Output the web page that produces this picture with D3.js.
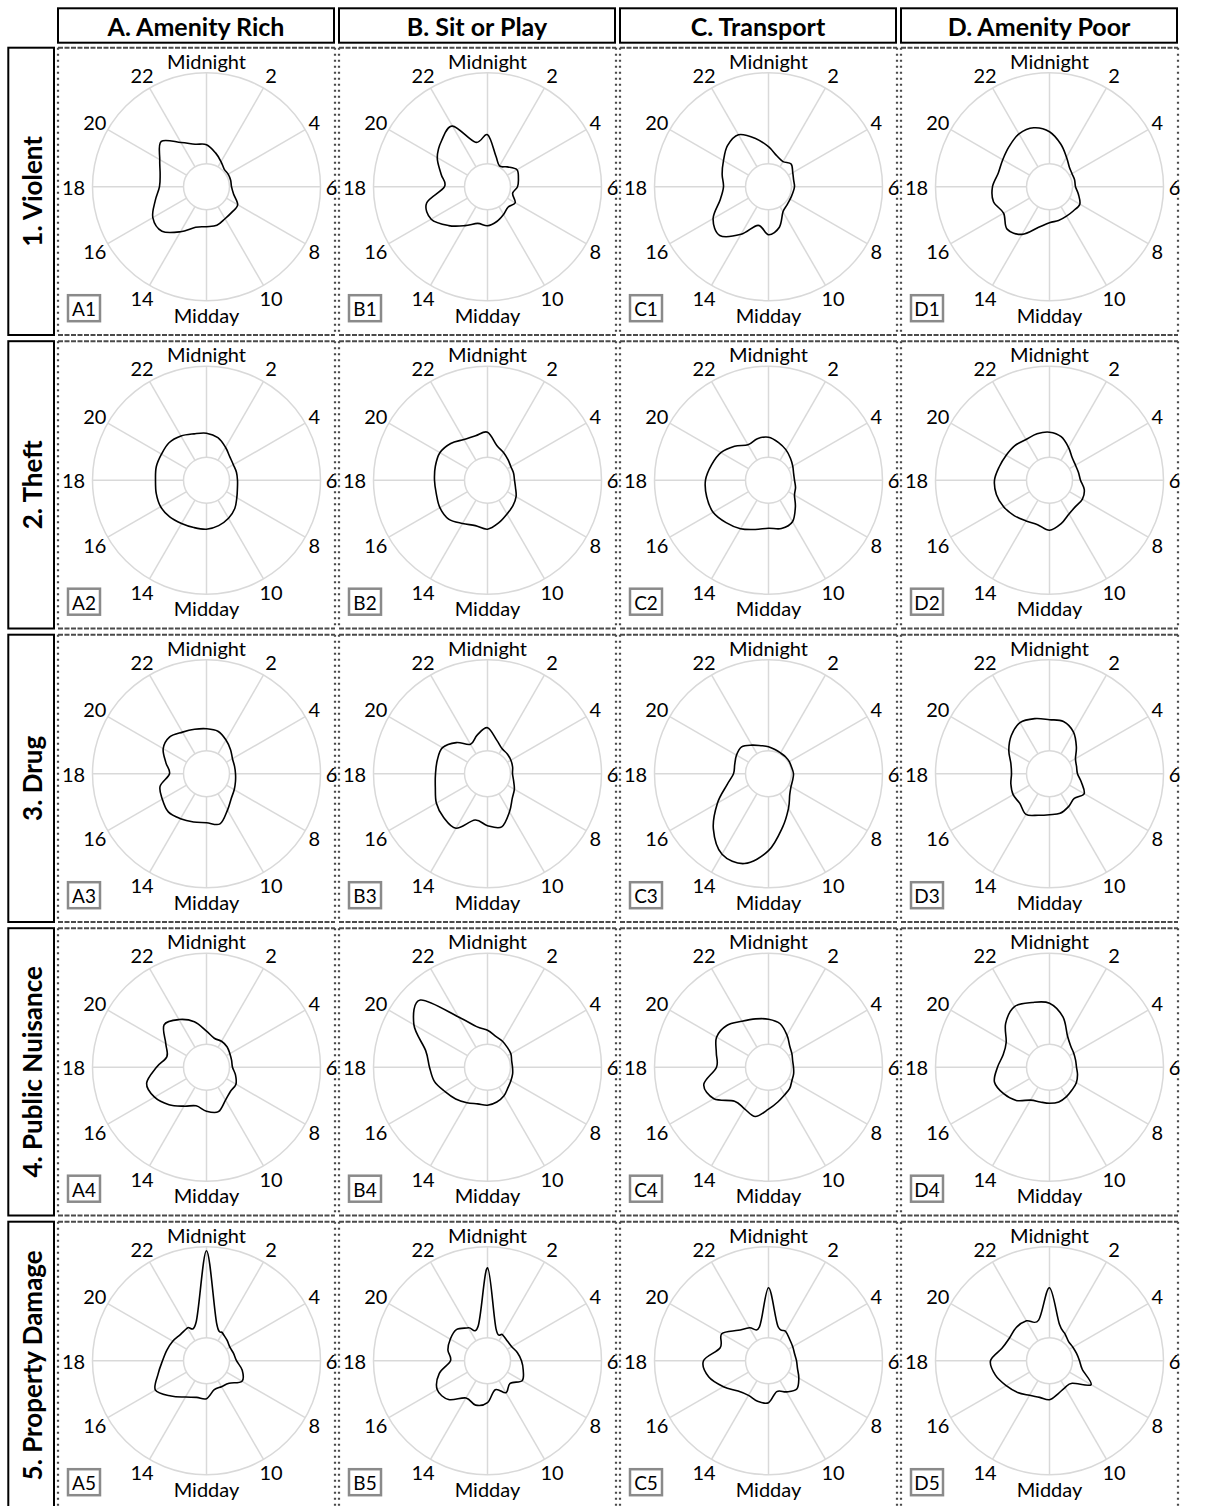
<!DOCTYPE html>
<html>
<head>
<meta charset="utf-8">
<script src="https://cdn.jsdelivr.net/npm/d3@7/dist/d3.min.js"></script>
<style>
  html, body { margin: 0; padding: 0; background: #fff; }
  svg { display: block; }
</style>
</head>
<body>
<script>
// ---------- data ----------
const columns = ["A. Amenity Rich", "B. Sit or Play", "C. Transport", "D. Amenity Poor"];
const rowNames = ["1. Violent", "2. Theft", "3. Drug", "4. Public Nuisance", "5. Property Damage"];
const colCodes = ["A", "B", "C", "D"];
const hours = d3.range(24);
const hourTicks = [0, 2, 4, 6, 8, 10, 12, 14, 16, 18, 20, 22];
const hourTickLabels = ["Midnight", "2", "4", "6", "8", "10", "Midday", "14", "16", "18", "20", "22"];
const axisMin = 23, axisMax = 114;   // radial value range (inner hole .. outer ring)

// hourly values (hour 0..23) per panel
const A1 = [42,35,29,25,25,25,25,28,36,36,37,40,40,42,52,63,62,53,47,48,54,64,51,44];
const B1 = [52,32,24,28,34,32,30,26,32,29,32,36,39,38,45,55,65,63,43,48,58,65,70,46];
const C1 = [40,32,29,32,28,26,26,25,25,26,29,42,48,40,55,69,64,50,45,48,52,58,60,50];
const D1 = [55,44,34,28,26,26,26,30,35,34,34,35,36,42,55,60,53,58,57,53,54,57,61,61];
const A2 = [47,44,38,33,31,31,31,32,35,40,44,47,49,49,50,52,53,52,51,52,52,53,51,48];
const B2 = [48,36,32,29,27,27,27,29,33,36,39,44,49,47,50,55,55,53,53,54,55,52,47,46];
const C2 = [43,39,35,31,28,26,26,28,30,38,48,50,48,51,56,60,64,64,63,59,55,48,41,43];
const D2 = [48,45,38,32,30,30,31,36,38,37,39,45,50,46,47,50,53,55,55,52,50,49,47,48];
const A3 = [45,44,39,34,30,29,29,30,32,35,42,52,49,50,52,54,51,48,37,42,50,52,48,46];
const B3 = [46,35,29,28,27,26,25,27,31,35,44,55,52,48,63,62,59,54,52,52,52,44,34,40];
const C3 = [27,25,24,24,24,24,25,25,26,30,40,55,77,93,93,78,59,43,35,35,37,38,33,29];
const D3 = [54,54,48,38,30,28,28,33,40,35,38,41,41,43,47,42,42,40,38,40,47,54,59,57];
const A4 = [36,30,30,29,27,26,26,30,34,34,38,46,44,40,45,53,60,62,50,41,47,60,55,47];
const B4 = [37,32,30,28,27,25,25,26,27,29,33,36,38,38,41,45,49,55,58,64,85,95,58,42];
const C4 = [48,45,37,30,27,25,25,26,27,30,32,36,42,51,48,48,63,67,52,54,60,59,53,50];
const D4 = [64,52,36,30,28,27,27,29,31,32,34,36,36,36,38,47,53,57,52,48,50,62,70,67];
const A5 = [110,39,32,29,27,28,30,37,41,32,30,30,38,38,42,50,59,50,44,41,39,37,38,40];
const B5 = [93,33,30,28,28,31,34,37,40,32,37,30,42,46,43,55,58,50,37,41,43,44,38,36];
const C5 = [73,36,34,30,28,27,28,30,35,40,36,32,42,42,40,43,52,62,65,50,54,43,38,35];
const D5 = [73,38,31,27,27,28,30,34,48,32,31,34,39,38,40,45,50,56,59,49,46,47,46,42];

const panels = [
  [A1, B1, C1, D1],
  [A2, B2, C2, D2],
  [A3, B3, C3, D3],
  [A4, B4, C4, D4],
  [A5, B5, C5, D5]
];

// ---------- layout ----------
const W = 1210, H = 1506;
const font = "Lato, 'Open Sans', sans-serif";
const panelX0 = 58, panelY0 = 47.7, colStep = 281, rowStep = 293.5;
const panelW = 277, panelH = 287.3;
const innerR = 23, outerR = 114;
const cxOff = 148.5, cyOff = 139;

const svg = d3.select("body").append("svg")
  .attr("width", W).attr("height", H)
  .attr("viewBox", `0 0 ${W} ${H}`);

const rScale = d3.scaleLinear().domain([axisMin, axisMax]).range([innerR, outerR]);
const aScale = d3.scaleLinear().domain([0, 24]).range([0, 2 * Math.PI]);

const line = d3.lineRadial()
  .angle((d, i) => aScale(hours[i]))
  .radius(d => rScale(d))
  .curve(d3.curveCardinalClosed.tension(0));

// column headers
columns.forEach((c, ci) => {
  const x = panelX0 + ci * colStep;
  svg.append("rect").attr("x", x).attr("y", 8.3).attr("width", panelW - 1).attr("height", 34.4)
    .attr("fill", "none").attr("stroke", "#000").attr("stroke-width", 2);
  svg.append("text").attr("x", x + (panelW - 1) / 2).attr("y", 26)
    .attr("text-anchor", "middle").attr("dominant-baseline", "central")
    .attr("font-family", font).attr("font-weight", "bold").attr("font-size", 25)
    .text(c);
});

// row labels
rowNames.forEach((rn, ri) => {
  const y = panelY0 + ri * rowStep;
  svg.append("rect").attr("x", 8.3).attr("y", y).attr("width", 45.7).attr("height", panelH)
    .attr("fill", "none").attr("stroke", "#000").attr("stroke-width", 2);
  svg.append("text")
    .attr("transform", `translate(${8.3 + 45.7 / 2 + 1},${y + panelH / 2}) rotate(-90)`)
    .attr("text-anchor", "middle").attr("dominant-baseline", "central")
    .attr("font-family", font).attr("font-weight", "bold").attr("font-size", 26)
    .text(rn);
});

// panels
panels.forEach((row, ri) => {
  row.forEach((vals, ci) => {
    const px = panelX0 + ci * colStep, py = panelY0 + ri * rowStep;
    const g = svg.append("g");
    // dashed frame
    const fr = g.append("g").attr("stroke", "#4a4a4a").attr("fill", "none");
    fr.append("line").attr("x1", px).attr("x2", px + panelW).attr("y1", py).attr("y2", py)
      .attr("stroke-width", 2).attr("stroke-dasharray", "5,1.5");
    fr.append("line").attr("x1", px).attr("x2", px + panelW).attr("y1", py + panelH).attr("y2", py + panelH)
      .attr("stroke-width", 2).attr("stroke-dasharray", "5,1.5");
    fr.append("line").attr("x1", px).attr("x2", px).attr("y1", py).attr("y2", py + panelH)
      .attr("stroke-width", 2.2).attr("stroke-dasharray", "2,4");
    fr.append("line").attr("x1", px + panelW).attr("x2", px + panelW).attr("y1", py).attr("y2", py + panelH)
      .attr("stroke-width", 2.2).attr("stroke-dasharray", "2,4");

    const cx = px + cxOff, cy = py + cyOff;
    const c = g.append("g").attr("transform", `translate(${cx},${cy})`);
    // grid
    c.append("circle").attr("r", outerR).attr("fill", "none").attr("stroke", "#d9d9d9").attr("stroke-width", 1.5);
    c.append("circle").attr("r", innerR).attr("fill", "none").attr("stroke", "#d9d9d9").attr("stroke-width", 1.5);
    hourTicks.forEach(h => {
      const a = aScale(h);
      c.append("line")
        .attr("x1", innerR * Math.sin(a)).attr("y1", -innerR * Math.cos(a))
        .attr("x2", outerR * Math.sin(a)).attr("y2", -outerR * Math.cos(a))
        .attr("stroke", "#d9d9d9").attr("stroke-width", 1.5);
    });
    // tick labels
    hourTicks.forEach((h, k) => {
      const a = aScale(h);
      let lr = 129;
      if (h === 0) lr = 126;
      if (h === 12) lr = 128;
      let dx = 0;
      if (h === 18) dx = -4;
      if (h === 6) dx = -4;
      if (h === 4 || h === 8) dx = -4;
      c.append("text")
        .attr("x", lr * Math.sin(a) + dx).attr("y", -lr * Math.cos(a))
        .attr("text-anchor", "middle").attr("dominant-baseline", "central")
        .attr("font-family", font).attr("font-size", 20).attr("fill", "#000")
        .text(hourTickLabels[k]);
    });
    // data curve
    c.append("path").datum(vals).attr("d", line)
      .attr("fill", "none").attr("stroke", "#000").attr("stroke-width", 1.6);

    // panel id box
    const bx = px + 10, by = py + 247.5;
    g.append("rect").attr("x", bx).attr("y", by).attr("width", 32).attr("height", 26)
      .attr("fill", "#fff").attr("stroke", "#8a8a8a").attr("stroke-width", 2.5);
    g.append("text").attr("x", bx + 16).attr("y", by + 13.5)
      .attr("text-anchor", "middle").attr("dominant-baseline", "central")
      .attr("font-family", font).attr("font-size", 19)
      .text(colCodes[ci] + (ri + 1));
  });
});
</script>
</body>
</html>
